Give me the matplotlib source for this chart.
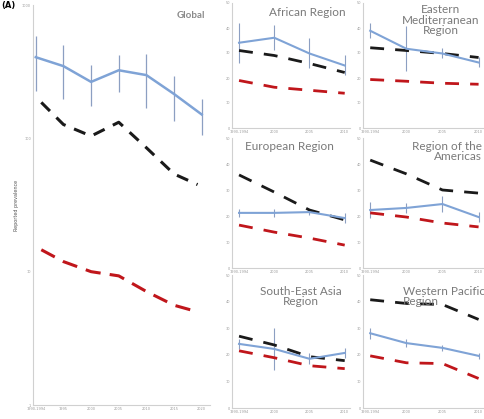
import matplotlib
matplotlib.use("Agg")
import matplotlib.pyplot as plt

# global panel (log scale)
g_years = ["1990-1994", "1995", "2000", "2005", "2010", "2015", "2020"]
g_blue = [406, 348, 265, 324, 298, 215, 151]
g_blue_err = [180, 150, 90, 100, 130, 80, 45]
g_black = [186, 127, 104, 132, 85, 54, 45]
g_red = [14.6, 11.9, 10.0, 9.3, 7.1, 5.6, 5.0]

# regional panels (linear scale)
r_years = ["1990-1994", "2000", "2005", "2010"]
regions = ["African Region", "Eastern\nMediterranean\nRegion",
           "European Region", "Region of the\nAmericas",
           "South-East Asia\nRegion", "Western Pacific\nRegion"]
r_blue = [[34.1, 36.1, 29.8, 25.0],
          [38.9, 31.7, 29.8, 26.2],
          [21.2, 21.2, 21.5, 19.2],
          [22.3, 23.1, 24.6, 19.6],
          [24.1, 22.2, 18.5, 20.7],
          [28.1, 24.4, 22.6, 19.6]]
r_blue_err = [[8, 5, 6, 4],
              [3, 9, 2, 2],
              [1.5, 1.5, 1, 2],
              [3, 2, 3, 2],
              [2, 8, 2, 2],
              [2, 1.5, 1, 1]]
r_black = [[31.0, 29.0, 25.8, 22.2],
           [32.1, 31.0, 29.8, 28.2],
           [35.8, 29.2, 22.3, 18.5],
           [41.5, 36.2, 30.0, 28.8],
           [27.0, 23.7, 19.3, 17.8],
           [40.7, 39.3, 38.9, 33.3]]
r_red = [[19.0, 16.3, 15.1, 13.9],
         [19.4, 18.7, 17.9, 17.5],
         [16.5, 13.8, 11.5, 8.8],
         [21.2, 19.6, 17.3, 15.8],
         [21.5, 18.9, 15.9, 14.8],
         [19.6, 17.0, 16.7, 11.1]]

W, H = 484, 419
fig = plt.figure(figsize=(W / 100, H / 100), dpi=100)

BLUE = "#7fa3d6"
EBAR = "#8c9fc2"
BLACK = "#1a1a1a"
RED = "#c0161b"
GRID = "#d0d0d0"
TICK = "#9a9a9a"


def add_ax(x0, y0, x1, y1):
    return fig.add_axes([x0 / W, 1 - y1 / H, (x1 - x0) / W, (y1 - y0) / H])


def style(ax):
    for s in ["top", "right"]:
        ax.spines[s].set_visible(False)
    for s in ["left", "bottom"]:
        ax.spines[s].set_color(GRID)
        ax.spines[s].set_linewidth(0.8)
    ax.tick_params(colors=TICK, labelsize=2.5, length=0, pad=1.5)


# Global panel
ax = add_ax(33, 5, 210, 405)
style(ax)
x = list(range(len(g_years)))
ax.errorbar(x, g_blue, yerr=g_blue_err, color=BLUE, ecolor=EBAR, lw=1.8,
            elinewidth=0.9, capsize=0)
ax.plot([0.2] + x[1:-1] + [5.85], g_black, color=BLACK, lw=2.2, ls=(0, (4, 3)))
ax.plot([0.2] + x[1:-1] + [5.85], g_red, color=RED, lw=2.2, ls=(0, (5, 3)))
ax.set_yscale("log")
ax.set_ylim(1, 1000)
ax.set_xlim(-0.1, 6.3)
ax.set_xticks(x)
ax.set_xticklabels(g_years)
ax.minorticks_off()
ax.set_yticks([1, 10, 100, 1000])
ax.set_yticklabels(["1", "10", "100", "1000"])
ax.text(0.97, 0.985, "Global", transform=ax.transAxes, ha="right", va="top",
        fontsize=7, fontweight="bold", color="#8a8a8a", family="Lato")
ax.set_ylabel("Reported prevalence", fontsize=3.5, color="#555555", labelpad=2)
fig.text(0.002, 0.998, "(A)", fontsize=6, fontweight="bold", va="top", ha="left")

# Regional panels
cols = [(232, 350), (363, 484)]
rows = [(3, 128), (138, 268), (275, 408)]
title_pos = [(0.64, 0.97, "center"), (0.64, 0.99, "center"),
             (0.49, 0.98, "center"), (0.985, 0.98, "right"),
             (0.58, 0.92, "center"), (0.33, 0.92, "left")]
for i, name in enumerate(regions):
    cx = cols[i % 2]
    ry = rows[i // 2]
    ax = add_ax(cx[0], ry[0], cx[1], ry[1])
    style(ax)
    xr = list(range(len(r_years)))
    ax.errorbar(xr, r_blue[i], yerr=r_blue_err[i], color=BLUE, ecolor=EBAR,
                lw=1.5, elinewidth=0.8, capsize=0)
    ax.plot(xr, r_black[i], color=BLACK, lw=2.0, ls=(0, (5, 4)))
    ax.plot(xr, r_red[i], color=RED, lw=2.0, ls=(0, (5, 4)))
    ax.set_ylim(0, 50)
    ax.set_xlim(-0.2, 3.15)
    ax.set_xticks(xr)
    ax.set_xticklabels(r_years)
    ax.set_yticks([0, 10, 20, 30, 40, 50])
    tx, ty, ha = title_pos[i]
    ax.text(tx, ty, name, transform=ax.transAxes, ha=ha, va="top",
            fontsize=8.5, color="#7a7a7a", linespacing=0.95, clip_on=True,
            family="Lato")

fig.savefig("out.png", dpi=100)
